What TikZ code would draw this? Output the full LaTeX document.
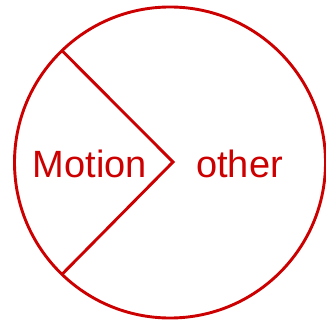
\documentclass[tikz,border=0pt]{standalone}
\usepackage{fontspec}
\setmainfont{Liberation Sans}
\usepackage{xcolor}
\usetikzlibrary{positioning}
\definecolor{pired}{HTML}{CC0000}

\begin{document}
\begin{tikzpicture}[x=1pt,y=-1pt,
    pie/.style={draw=pired, line width=2.9pt},
    lbl/.style={text=pired, font=\fontsize{38}{40}\selectfont, anchor=base, inner sep=0pt}]
    \useasboundingbox (0,0) rectangle (326,323);
    \draw[pie] (170,162.5) circle (155.5);
    \coordinate (vtx) at (173,162);
    \coordinate (ptop) at (170+155.5*cos 134,162.5-155.5*sin 134);
    \coordinate (pbot) at (170+155.5*cos 226,162.5-155.5*sin 226);
    \draw[pie, line join=miter] (ptop) -- (vtx) -- (pbot);
    \node[lbl] (mot) at (90,177) {Motion};
    \node[lbl] (oth) at (239.5,177) {other};
\end{tikzpicture}
\end{document}
